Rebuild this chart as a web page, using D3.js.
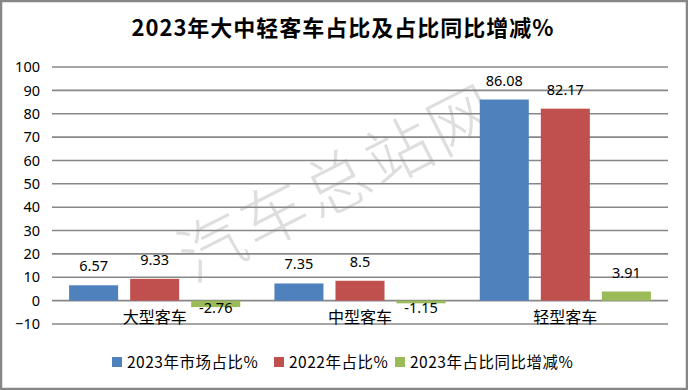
<!DOCTYPE html>
<html>
<head>
<meta charset="utf-8">
<script src="https://cdn.jsdelivr.net/npm/d3@7"></script>
<style>
  html, body { margin: 0; padding: 0; background: #fff; }
  svg { display: block; font-family: "Noto Sans CJK SC", "Noto Sans", sans-serif; }
</style>
</head>
<body>
<div id="chart"></div>
<script>
// data
const categories = ["大型客车", "中型客车", "轻型客车"];
const seriesNames = ["2023年市场占比%", "2022年占比%", "2023年占比同比增减%"];
const share2023 = [6.57, 7.35, 86.08];
const share2022 = [9.33, 8.5, 82.17];
const shareChange = [-2.76, -1.15, 3.91];
const yTicks = [-10, 0, 10, 20, 30, 40, 50, 60, 70, 80, 90, 100];
const colors = ["#4F81BD", "#C0504D", "#9BBB59"];

const W = 688, H = 390;
const plot = { left: 52, right: 668, top: 67, bottom: 324 };

const seriesValues = [share2023, share2022, shareChange];
const rows = [];
categories.forEach((c, i) => {
    seriesNames.forEach((s, j) => {
        rows.push({ cat: c, series: s, value: seriesValues[j][i], color: colors[j] });
    });
});

const svg = d3.select("#chart").append("svg")
    .attr("width", W)
    .attr("height", H);

svg.append("rect")
    .attr("x", 1).attr("y", 1)
    .attr("width", W - 2).attr("height", H - 2)
    .attr("fill", "#fff")
    .attr("stroke", "#878787")
    .attr("stroke-width", 2.5);

// scales
const y = d3.scaleLinear().domain([-10, 100]).range([plot.bottom, plot.top]);
const x0 = d3.scaleBand().domain(categories).range([plot.left, plot.right]).padding(0);
const x1 = d3.scaleBand().domain(seriesNames).range([0, x0.bandwidth()])
    .paddingInner(0.197).paddingOuter(0.28);

// watermark
svg.append("text")
    .attr("transform", "translate(336,178) rotate(-27)")
    .attr("text-anchor", "middle")
    .attr("dominant-baseline", "central")
    .attr("font-size", 66)
    .attr("font-weight", 300)
    .attr("letter-spacing", 4)
    .attr("fill", "#dedede")
    .text("汽车总站网");

// title
svg.append("text")
    .attr("x", 343)
    .attr("y", 36)
    .attr("text-anchor", "middle")
    .attr("font-size", 22)
    .attr("letter-spacing", 1)
    .attr("font-weight", "bold")
    .attr("fill", "#000")
    .text("2023年大中轻客车占比及占比同比增减%");

// gridlines
svg.append("g")
    .selectAll("line")
    .data(yTicks)
    .join("line")
    .attr("x1", plot.left)
    .attr("x2", plot.right)
    .attr("y1", d => y(d))
    .attr("y2", d => y(d))
    .attr("stroke", "#878787")
    .attr("stroke-width", 1.6);

// y axis labels
const yAxis = d3.axisLeft(y).tickValues(yTicks).tickSize(0).tickPadding(0);
const ya = svg.append("g")
    .attr("transform", `translate(${plot.left - 12},0)`)
    .call(yAxis);
ya.select(".domain").remove();
ya.selectAll("text")
    .attr("font-size", 14.5)
    .attr("fill", "#000")
    .attr("font-family", "'Noto Sans', sans-serif");

// bars
const groups = svg.append("g")
    .selectAll("g")
    .data(categories)
    .join("g")
    .attr("transform", d => `translate(${x0(d)},0)`);

groups.selectAll("rect")
    .data(c => rows.filter(r => r.cat === c))
    .join("rect")
    .attr("x", d => x1(d.series))
    .attr("width", x1.bandwidth())
    .attr("y", d => y(Math.max(0, d.value)))
    .attr("height", d => Math.abs(y(d.value) - y(0)))
    .attr("fill", d => d.color);

// value labels
groups.selectAll("text.val")
    .data(c => rows.filter(r => r.cat === c))
    .join("text")
    .attr("class", "val")
    .attr("x", d => x1(d.series) + x1.bandwidth() / 2)
    .attr("y", d => d.value >= 0 ? y(d.value) - 14 : y(0) + 12)
    .attr("text-anchor", "middle")
    .attr("font-size", 14.5)
    .attr("font-family", "'Noto Sans', sans-serif")
    .attr("fill", "#000")
    .text(d => d.value);

// category labels
svg.append("g")
    .selectAll("text")
    .data(categories)
    .join("text")
    .attr("x", d => x0(d) + x0.bandwidth() / 2)
    .attr("y", 323)
    .attr("text-anchor", "middle")
    .attr("font-size", 16)
    .attr("fill", "#000")
    .text(d => d);

// legend
const legendX = [112, 274, 395];
const legend = svg.append("g")
    .selectAll("g")
    .data(seriesNames)
    .join("g")
    .attr("transform", (d, i) => `translate(${legendX[i]},357)`);
legend.append("rect")
    .attr("width", 10).attr("height", 10)
    .attr("fill", (d, i) => colors[i]);
legend.append("text")
    .attr("x", 15)
    .attr("y", 11)
    .attr("font-size", 15.5)
    .attr("letter-spacing", 0.5)
    .attr("fill", "#000")
    .text(d => d);
</script>
</body>
</html>
